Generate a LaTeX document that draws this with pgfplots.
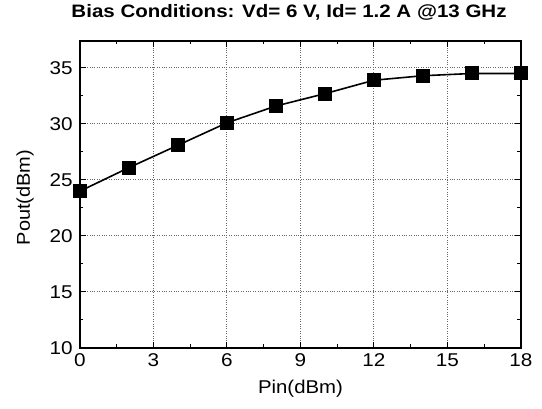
\documentclass[border=0pt]{standalone}
\usepackage{pgfplots}
\pgfplotsset{compat=1.18}
\usepackage{fontspec}
\setmainfont{Liberation Sans}
\begin{document}
\begin{tikzpicture}
\begin{axis}[
  scale only axis,
  width=441pt, height=307pt,
  xmin=0, xmax=18, ymin=10, ymax=37.4,
  xtick={0,3,...,18}, ytick={10,15,...,35},
  minor x tick num=1, minor y tick num=1,
  tick align=inside,
  major tick length=6pt, minor tick length=3.5pt,
  xmajorgrids, ymajorgrids,
  grid style={black!60, dotted, line width=1pt},
  axis line style={line width=1.4pt},
  every tick/.style={black, line width=1pt},
  /pgf/number format/assume math mode=true,
  tick label style={font=\fontsize{18.5}{20}\selectfont, xscale=1.12},
  xticklabel style={yshift=-2.5pt},
  yticklabel style={xshift=-3pt},
  xlabel={\scalebox{1.1}[1]{Pin(dBm)}}, ylabel={\scalebox{1.08}[1]{Pout(dBm)}},
  label style={font=\fontsize{18.5}{20}\selectfont},
  xlabel style={at={(axis description cs:0.5,-0.1336)}, anchor=center},
  ylabel style={at={(axis description cs:-0.1247,0.49)}, anchor=center},
  title={\scalebox{1.14}[1]{Bias Conditions: Vd= 6 V, Id= 1.2 A @13 GHz}},
  title style={font=\bfseries\fontsize{18}{20}\selectfont, at={(axis description cs:0.474,1.075)}, anchor=center},
  clip=false,
]
\addplot[black, line width=1.6pt, mark=square*, mark size=6.2pt] coordinates {
(0,24.0) (2,26.1) (4,28.1) (6,30.1) (8,31.6) (10,32.7) (12,33.9) (14,34.3) (16,34.5) (18,34.5)
};
\end{axis}
\pgfresetboundingbox
\path (-80pt,-61pt) rectangle (462pt,348pt);
\end{tikzpicture}
\end{document}
